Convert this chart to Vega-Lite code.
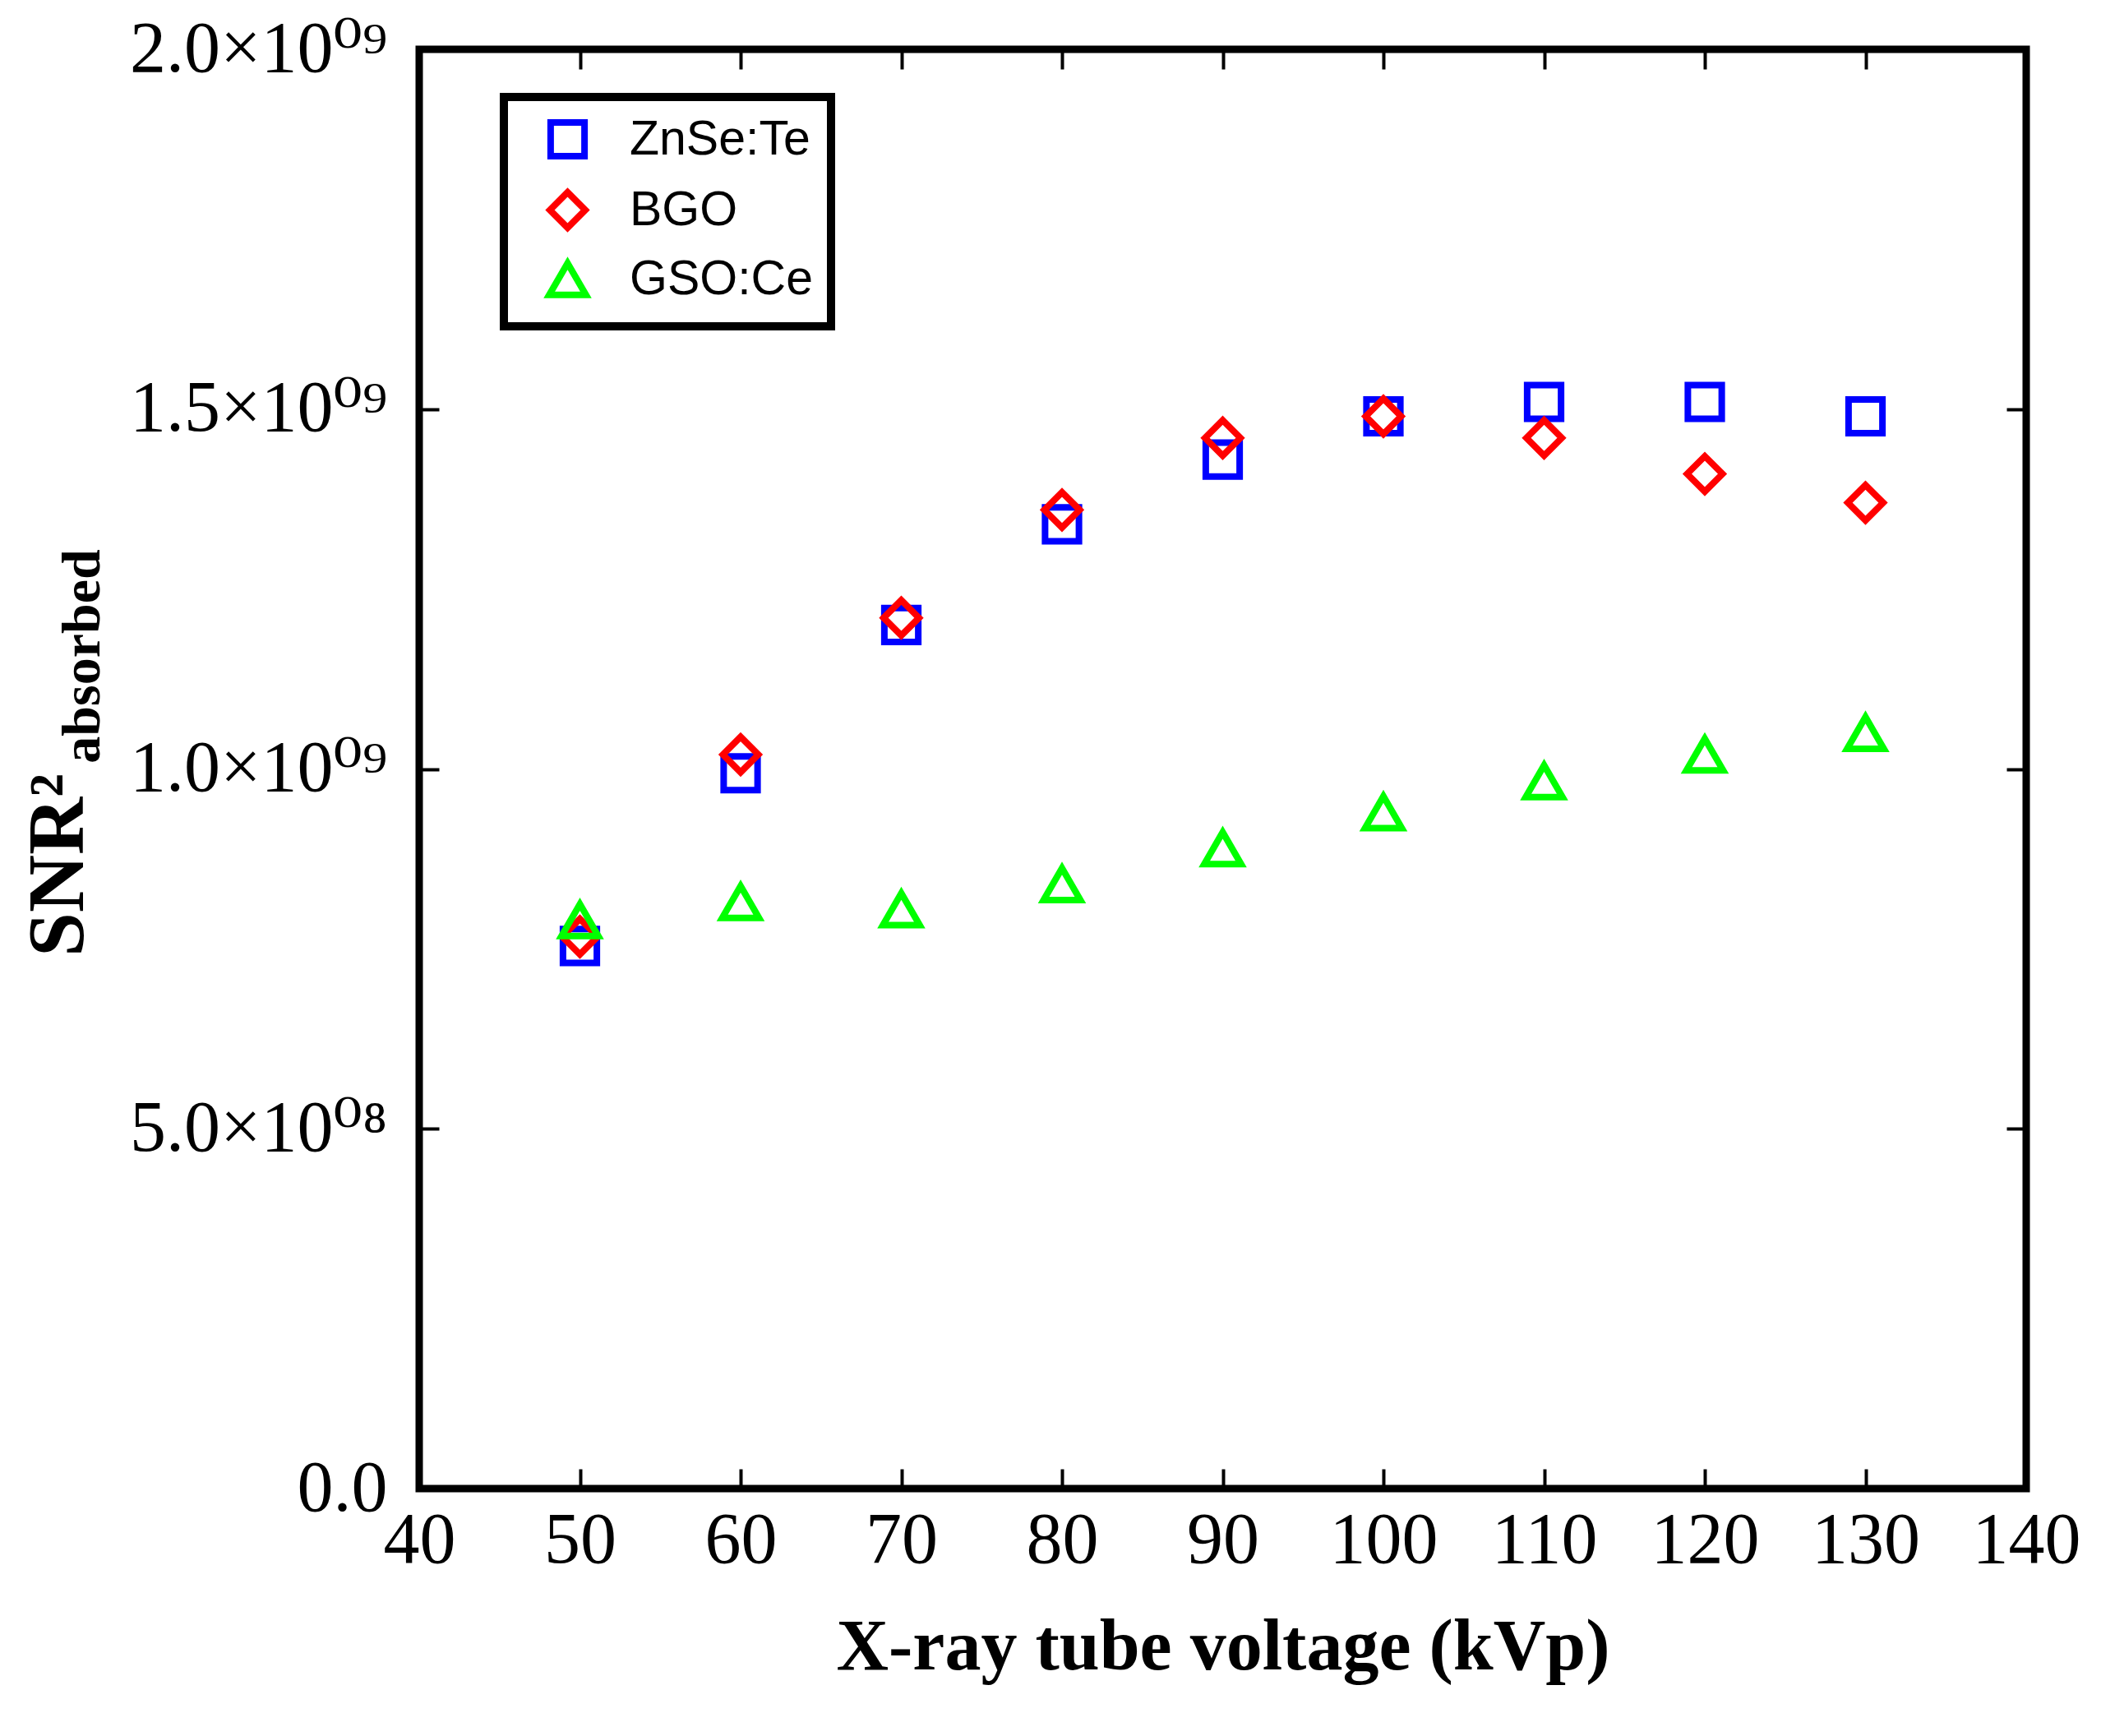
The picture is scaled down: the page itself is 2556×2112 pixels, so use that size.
{
  "$schema": "https://vega.github.io/schema/vega-lite/v6.json",
  "width": 1955,
  "height": 1751,
  "autosize": "none",
  "padding": {"left": 510, "top": 60, "right": 91, "bottom": 301},
  "background": "white",
  "data": {
    "values": [
      {"kVp": 50, "snr": 754000000, "material": "ZnSe:Te"},
      {"kVp": 60, "snr": 994000000, "material": "ZnSe:Te"},
      {"kVp": 70, "snr": 1200000000, "material": "ZnSe:Te"},
      {"kVp": 80, "snr": 1340000000, "material": "ZnSe:Te"},
      {"kVp": 90, "snr": 1430000000, "material": "ZnSe:Te"},
      {"kVp": 100, "snr": 1490000000, "material": "ZnSe:Te"},
      {"kVp": 110, "snr": 1510000000, "material": "ZnSe:Te"},
      {"kVp": 120, "snr": 1510000000, "material": "ZnSe:Te"},
      {"kVp": 130, "snr": 1490000000, "material": "ZnSe:Te"},
      {"kVp": 50, "snr": 767000000, "material": "BGO"},
      {"kVp": 60, "snr": 1020000000, "material": "BGO"},
      {"kVp": 70, "snr": 1210000000, "material": "BGO"},
      {"kVp": 80, "snr": 1360000000, "material": "BGO"},
      {"kVp": 90, "snr": 1460000000, "material": "BGO"},
      {"kVp": 100, "snr": 1490000000, "material": "BGO"},
      {"kVp": 110, "snr": 1460000000, "material": "BGO"},
      {"kVp": 120, "snr": 1410000000, "material": "BGO"},
      {"kVp": 130, "snr": 1370000000, "material": "BGO"},
      {"kVp": 50, "snr": 790000000, "material": "GSO:Ce"},
      {"kVp": 60, "snr": 815000000, "material": "GSO:Ce"},
      {"kVp": 70, "snr": 805000000, "material": "GSO:Ce"},
      {"kVp": 80, "snr": 840000000, "material": "GSO:Ce"},
      {"kVp": 90, "snr": 890000000, "material": "GSO:Ce"},
      {"kVp": 100, "snr": 940000000, "material": "GSO:Ce"},
      {"kVp": 110, "snr": 983000000, "material": "GSO:Ce"},
      {"kVp": 120, "snr": 1020000000, "material": "GSO:Ce"},
      {"kVp": 130, "snr": 1050000000, "material": "GSO:Ce"}
    ]
  },
  "config": {
    "view": {"stroke": "black", "strokeWidth": 9},
    "axis": {
      "domain": false,
      "grid": false,
      "ticks": true,
      "tickColor": "black",
      "tickWidth": 4,
      "tickSize": -24,
      "labelFont": "Liberation Serif, DejaVu Serif",
      "labelFontSize": 88,
      "labelColor": "black",
      "labelLimit": 0,
      "titleFont": "Liberation Serif",
      "titleFontWeight": "bold",
      "titleColor": "black"
    },
    "legend": {"strokeWidth": 10, "labelLimit": 0}
  },
  "resolve": {"axis": {"x": "independent", "y": "independent"}},
  "layer": [
    {
      "mark": {"type": "point", "filled": false, "strokeWidth": 8, "opacity": 1},
      "encoding": {
        "x": {
          "field": "kVp",
          "type": "quantitative",
          "scale": {"domain": [40, 140], "nice": false},
          "axis": {
            "orient": "bottom",
            "values": [40, 50, 60, 70, 80, 90, 100, 110, 120, 130, 140],
            "labelPadding": 43,
            "labelOverlap": false,
            "labelFlush": false,
            "labelBound": false,
            "title": "X-ray tube voltage (kVp)",
            "titleFontSize": 88,
            "titleY": 219,
            "titleBaseline": "alphabetic"
          }
        },
        "y": {
          "field": "snr",
          "type": "quantitative",
          "scale": {"domain": [0, 2000000000], "nice": false},
          "axis": {
            "orient": "left",
            "values": [0, 500000000, 1000000000, 1500000000, 2000000000],
            "labelExpr": "datum.value == 0 ? '0.0' : (datum.value >= 1e9 ? format(datum.value / 1e9, '.1f') + '×10⁰⁹' : format(datum.value / 1e8, '.1f') + '×10⁰⁸')",
            "labelPadding": 63,
            "labelOverlap": false,
            "labelFlush": false,
            "labelBound": false,
            "title": "SNR²",
            "titleFontSize": 97,
            "titleAngle": 270,
            "titleX": -410,
            "titleY": 992,
            "titleAlign": "center",
            "titleBaseline": "alphabetic"
          }
        },
        "color": {
          "field": "material",
          "type": "nominal",
          "sort": null,
          "scale": {"domain": ["ZnSe:Te", "BGO", "GSO:Ce"], "range": ["#0000ff", "#ff0000", "#00ff00"]},
          "legend": {
            "title": null,
            "orient": "none",
            "legendX": 103,
            "legendY": 58,
            "padding": 22,
            "strokeColor": "black",
            "fillColor": "white",
            "labelFont": "Liberation Sans",
            "labelFontSize": 59,
            "labelColor": "black",
            "labelLimit": 0,
            "symbolSize": 1800,
            "symbolStrokeWidth": 8,
            "symbolOffset": 26,
            "labelOffset": 46,
            "rowPadding": 10
          }
        },
        "shape": {
          "field": "material",
          "type": "nominal",
          "sort": null,
          "scale": {"domain": ["ZnSe:Te", "BGO", "GSO:Ce"], "range": ["square", "diamond", "triangle-up"]},
          "legend": {
            "title": null,
            "orient": "none",
            "legendX": 103,
            "legendY": 58,
            "padding": 22,
            "strokeColor": "black",
            "fillColor": "white",
            "labelFont": "Liberation Sans",
            "labelFontSize": 59,
            "labelColor": "black",
            "labelLimit": 0,
            "symbolSize": 1800,
            "symbolStrokeWidth": 8,
            "symbolOffset": 26,
            "labelOffset": 46,
            "rowPadding": 10
          }
        },
        "size": {
          "field": "material",
          "type": "nominal",
          "scale": {"domain": ["ZnSe:Te", "BGO", "GSO:Ce"], "range": [1700, 2000, 1400]},
          "legend": null
        }
      }
    },
    {
      "mark": {"type": "point", "opacity": 0},
      "encoding": {
        "x": {
          "field": "kVp",
          "type": "quantitative",
          "scale": {"domain": [40, 140], "nice": false},
          "axis": {
            "orient": "top",
            "values": [40, 50, 60, 70, 80, 90, 100, 110, 120, 130, 140],
            "labels": false,
            "title": null
          }
        },
        "y": {
          "field": "snr",
          "type": "quantitative",
          "scale": {"domain": [0, 2000000000], "nice": false},
          "axis": {
            "orient": "right",
            "values": [0, 500000000, 1000000000, 1500000000, 2000000000],
            "labels": false,
            "title": "absorbed",
            "titleFontSize": 66,
            "titleAngle": 270,
            "titleX": -2345,
            "titleY": 738,
            "titleAlign": "center",
            "titleBaseline": "alphabetic"
          }
        }
      }
    }
  ]
}
